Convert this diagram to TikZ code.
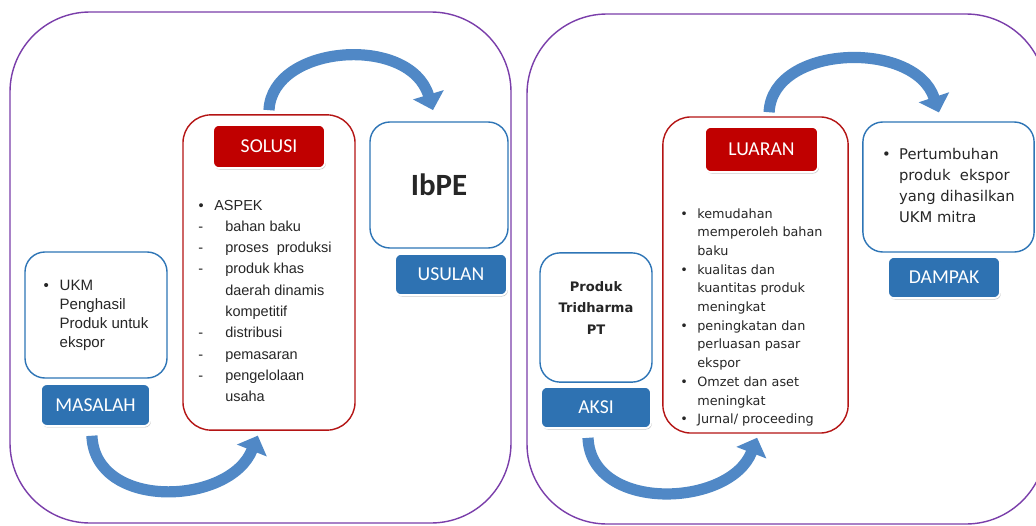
\documentclass[tikz,border=0pt]{standalone}
\usepackage{fontspec}
\setmainfont{Liberation Sans}
\newfontfamily\calfont{Carlito}
\newfontfamily\verfont{DejaVu Sans}
\usetikzlibrary{arrows.meta, shadows}
\definecolor{framepurple}{RGB}{122,62,170}
\definecolor{boxblue}{RGB}{46,117,182}
\definecolor{btnblue}{RGB}{46,114,178}
\definecolor{boxred}{RGB}{180,20,20}
\definecolor{btnred}{RGB}{192,0,0}
\definecolor{arrowblue}{RGB}{80,136,198}
\definecolor{textgrey}{RGB}{38,38,38}

\begin{document}
\begin{tikzpicture}[x=0.025cm, y=-0.025cm,
    every node/.style={inner sep=0pt, text=textgrey},
    frame/.style={draw=framepurple, line width=1pt, rounded corners=2cm},
    textbox/.style={draw=boxblue, line width=1pt, rounded corners=0.5cm, fill=white},
    outbox/.style={draw=boxred, line width=1pt, rounded corners=0.7cm, fill=white},
    btn/.style={draw=white, line width=1.3pt, rounded corners=0.15cm, text=white,
        font=\calfont\fontsize{14}{16}\selectfont,
        drop shadow={shadow xshift=0.6pt, shadow yshift=-1pt, opacity=0.45}},
    bluebtn/.style={btn, fill=btnblue},
    redbtn/.style={btn, fill=btnred},
    bigarrow/.style={draw=arrowblue, line width=0.28cm,
        -{Triangle[width=0.78cm, length=0.4cm]}}]

    \path[use as bounding box, fill=white] (0,0) rectangle (1036,525);
    \clip (0,0) rectangle (1036,525);

    % Frames
    \draw[frame] (10,12) rectangle (511,523);
    \draw[frame] (527,14) rectangle (1046,524);

    % Problem
    \node[textbox, minimum width=3.55cm, minimum height=3.15cm,
        font=\fontsize{10.7}{13.5}\selectfont] (ukm) at (96,315)
        {\begin{tabular}{@{}p{11.4pt}@{}l@{}}
        • & UKM\\
          & Penghasil\\
          & Produk untuk\\
          & ekspor
        \end{tabular}};
    \node[bluebtn, minimum width=2.73cm, minimum height=1.05cm] (masalah) at (95.5,405) {MASALAH};

    % Solution
    \node[outbox, minimum width=4.3cm, minimum height=7.88cm] (solusibox) at (269,272.5) {};
    \node[redbtn, minimum width=2.8cm, minimum height=1.08cm] (solusi) at (269,146.5) {SOLUSI};
    \node[anchor=base west, font=\fontsize{10.3}{15.15}\selectfont] (aspek) at (198,210)
        {\begin{tabular}[t]{@{}p{19.2pt}@{}l@{}}
        \multicolumn{2}{@{}l@{}}{\hspace{0.3pt}•\hspace{7.5pt}ASPEK}\\
        - & bahan baku\\
        - & proses\ \ produksi\\
        - & produk khas\\
          & daerah dinamis\\
          & kompetitif\\
        - & distribusi\\
        - & pemasaran\\
        - & pengelolaan\\
          & usaha
        \end{tabular}};

    % Proposal
    \node[textbox, minimum width=3.45cm, minimum height=3.15cm,
        font=\calfont\bfseries\fontsize{22}{26}\selectfont] (ibpe) at (439,185) {IbPE};
    \node[bluebtn, minimum width=2.8cm, minimum height=1.03cm] (usulan) at (451,274.5) {USULAN};

    % Action
    \node[textbox, minimum width=2.8cm, minimum height=3.23cm,
        font=\verfont\bfseries\fontsize{9.3}{15.3}\selectfont] (produk) at (596,317.5)
        {\raisebox{6.4pt}[\height][\depth]{\begin{tabular}{@{}c@{}}
        Produk\\
        Tridharma\\
        PT
        \end{tabular}}};
    \node[bluebtn, minimum width=2.75cm, minimum height=1.03cm] (aksi) at (596,407.5) {AKSI};

    % Output
    \node[outbox, minimum width=4.63cm, minimum height=7.9cm] (luaranbox) at (755.5,275) {};
    \node[redbtn, minimum width=2.83cm, minimum height=1.13cm] (luaran) at (761.5,149.5) {LUARAN};
    \node[anchor=base west, font=\verfont\fontsize{9.1}{13.3}\selectfont] (hasil) at (680,218)
        {\begin{tabular}[t]{@{}p{12.1pt}@{}l@{}}
        • & kemudahan\\
          & memperoleh bahan\\
          & baku\\
        • & kualitas dan\\
          & kuantitas produk\\
          & meningkat\\
        • & peningkatan dan\\
          & perluasan pasar\\
          & ekspor\\
        • & Omzet dan aset\\
          & meningkat\\
        • & Jurnal/ proceeding
        \end{tabular}};

    % Impact
    \node[textbox, minimum width=4.28cm, minimum height=3.25cm,
        font=\verfont\fontsize{10.5}{14.9}\selectfont] (dampakbox) at (948.5,187)
        {\begin{tabular}{@{}p{12pt}@{}l@{}}
        • & Pertumbuhan\\
          & produk\ \ ekspor\\
          & yang dihasilkan\\
          & UKM mitra
        \end{tabular}};
    \node[bluebtn, minimum width=2.8cm, minimum height=1.03cm] (dampak) at (944,277.5) {DAMPAK};

    % Arrows
    \draw[bigarrow] ([yshift=0.1cm]solusibox.north)
        .. controls +(3,-66) and +(-23,-76) .. ([xshift=-0.15cm, yshift=0.28cm]ibpe.north);
    \draw[bigarrow] ([xshift=-0.09cm, yshift=-0.22cm]masalah.south)
        .. controls +(3,75) and +(-28,70) .. ([xshift=-0.28cm, yshift=-0.12cm]solusibox.south);
    \draw[bigarrow] ([xshift=0.34cm, yshift=0.1cm]luaranbox.north)
        .. controls +(3,-68) and +(-24,-73) .. ([xshift=-0.24cm, yshift=0.22cm]dampakbox.north);
    \draw[bigarrow] ([xshift=-0.2cm, yshift=-0.22cm]aksi.south)
        .. controls +(3,75) and +(-27,70) .. ([xshift=0.04cm, yshift=-0.1cm]luaranbox.south);
\end{tikzpicture}
\end{document}
